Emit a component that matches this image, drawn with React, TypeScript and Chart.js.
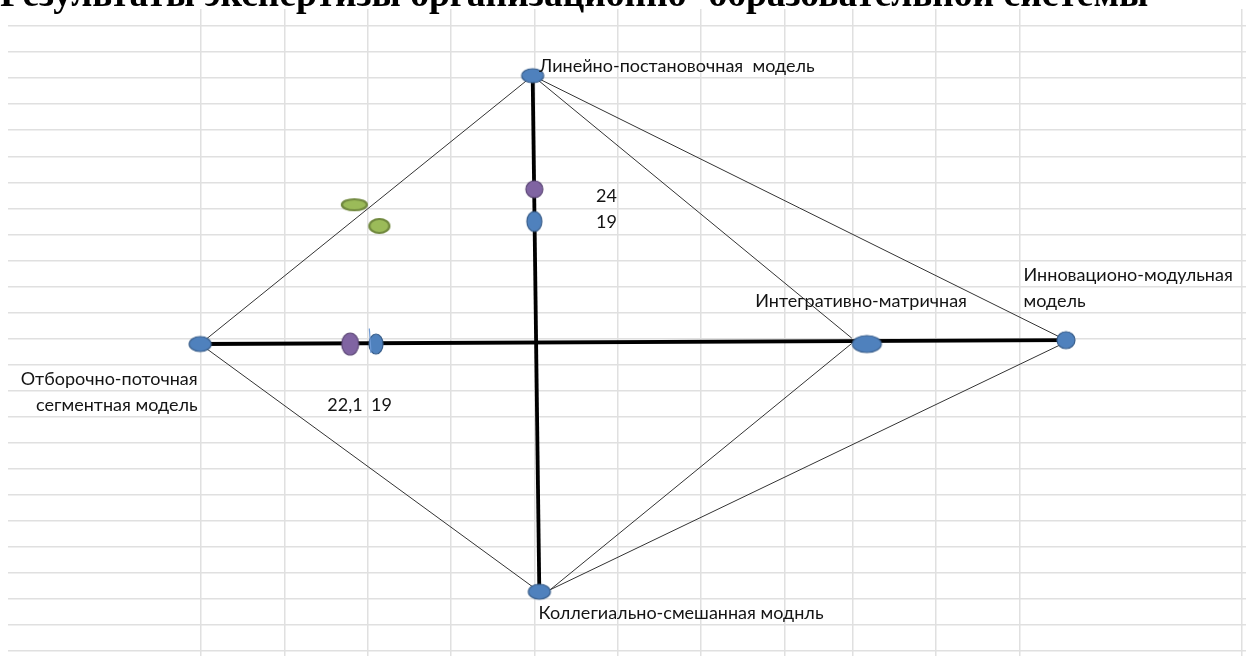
import React, { useEffect, useRef } from "react";
import { Chart, registerables } from "chart.js";

Chart.register(...registerables);

// ---------------- Data ----------------
const titleText = "Результаты экспертизы организационно- образовательной системы";

// models (nodes of the diagram)
const modelLabels: string[][] = [
  ["Линейно-постановочная  модель"],
  ["Отборочно-поточная", "сегментная модель"],
  ["Интегративно-матричная"],
  ["Инновационо-модульная", "модель"],
  ["Коллегиально-смешанная моднль"],
];
const modelX = [-0.2, -40.1, 39.9, 63.8, 0.6];
const modelY = [41.6, 0, 0, 0.6, -38.4];

// expert scores placed on the axes
const verticalScores = [24, 19]; // purple, blue on the vertical axis
const horizontalScores = [22.1, 19]; // purple, blue on the horizontal axis (left side)
const greenX = [-21.6, -18.6];
const greenY = [21.6, 18.3];

// thin connecting lines
const thinFromX = [-0.2, -40.1, -0.2, -0.2, 1.9, 1.9];
const thinFromY = [41.6, 0, 41.6, 41.6, -38.1, -38.1];
const thinToX = [-40.1, 0.6, 38.1, 63.8, 38.1, 63.8];
const thinToY = [0, -38.4, 0.9, 0.6, 0.1, 0.3];

// thick axes
const axisFromX = [-0.2, -40.1];
const axisFromY = [41.6, 0];
const axisToX = [0.6, 63.8];
const axisToY = [-38.4, 0.6];

// small blue stroke near the horizontal blue marker
const strokeX = [-19.8, -19.6];
const strokeY = [2.4, -1.4];

// spreadsheet grid (column boundaries in x units, row boundaries as row numbers)
const sheetColumns = [-40, -30, -20, -10, 0, 10, 20, 30, 38.2, 48.2, 58.2, 84.9];
const sheetRows = [1, 2, 3, 4, 5, 6, 7, 8, 9, 10, 11, 12, 13, 14, 15, 16, 17, 18, 19, 20, 21, 22, 23, 24, 25];

// ---------------- Layout / style ----------------
const modelLabelPlacement = [
  { x: 0.6, rows: [3], align: "left" },
  { x: -40.4, rows: [15, 16], align: "right" },
  { x: 26.5, rows: [12], align: "left" },
  { x: 58.7, rows: [11, 12], align: "left" },
  { x: 0.5, rows: [24], align: "left" },
];
const verticalScorePlacement = [
  { x: 7.4, row: 8, align: "left" },
  { x: 7.4, row: 9, align: "left" },
];
const horizontalScorePlacement = [
  { x: -20.6, row: 16, align: "right" },
  { x: -19.6, row: 16, align: "left" },
];

const LABEL_FONT = '18px Lato, Roboto, "Noto Sans", sans-serif';
const TITLE_FONT = 'bold 37.5px "Liberation Serif", "Times New Roman", serif';
const TEXT_COLOR = "#141414";
const GRID_COLOR = "#e0e0e0";

const BLUE = { fill: "#4f81bd", stroke: "#385d8a" };
const PURPLE = { fill: "#8064a2", stroke: "#5c4776" };
const GREEN = { fill: "#9bbb59", stroke: "#71893f" };

const nodeSizes = [
  [22, 14],
  [22, 15],
  [29, 17],
  [18, 17],
  [22, 15],
];
const purpleSizes = [
  [17, 17],
  [17, 22],
];
const blueSizes = [
  [15, 20],
  [14, 20],
];
const greenSizes = [
  [25, 11],
  [20, 14],
];

function ellipseSprite(w: number, h: number, fill: string, stroke: string, lw: number) {
  const c = document.createElement("canvas");
  const pad = Math.ceil(lw) + 1;
  c.width = Math.ceil(w + pad * 2);
  c.height = Math.ceil(h + pad * 2);
  const g = c.getContext("2d")!;
  g.beginPath();
  g.ellipse(c.width / 2, c.height / 2, w / 2, h / 2, 0, 0, Math.PI * 2);
  g.fillStyle = fill;
  g.fill();
  g.lineWidth = lw;
  g.strokeStyle = stroke;
  g.stroke();
  return c;
}

const fmt = (v: number) => String(v).replace(".", ",");

const textPlugin = {
  id: "diagramText",
  afterDraw(chart: any) {
    const ctx: CanvasRenderingContext2D = chart.ctx;
    const xs = chart.scales.x;
    const gy = chart.scales.gy;
    const baseline = (row: number) => gy.getPixelForValue(row) - 6;
    ctx.save();
    // title (cut off at the top of the picture)
    ctx.font = TITLE_FONT;
    ctx.fillStyle = "#000";
    ctx.textAlign = "left";
    ctx.textBaseline = "alphabetic";
    ctx.fillText(titleText, 0, 6);

    ctx.font = LABEL_FONT;
    ctx.fillStyle = TEXT_COLOR;
    modelLabels.forEach((lines, i) => {
      const p = modelLabelPlacement[i];
      ctx.textAlign = p.align as CanvasTextAlign;
      lines.forEach((line, j) => {
        ctx.fillText(line, xs.getPixelForValue(p.x), baseline(p.rows[j]));
      });
    });
    verticalScores.forEach((v, i) => {
      const p = verticalScorePlacement[i];
      ctx.textAlign = p.align as CanvasTextAlign;
      ctx.fillText(fmt(v), xs.getPixelForValue(p.x), baseline(p.row));
    });
    horizontalScores.forEach((v, i) => {
      const p = horizontalScorePlacement[i];
      ctx.textAlign = p.align as CanvasTextAlign;
      ctx.fillText(fmt(v), xs.getPixelForValue(p.x), baseline(p.row));
    });
    ctx.restore();
  },
};

export default function App() {
  const ref = useRef<HTMLCanvasElement | null>(null);

  useEffect(() => {
    if (!ref.current) return;

    const nodeSprites = nodeSizes.map(([w, h]) => ellipseSprite(w, h, BLUE.fill, BLUE.stroke, 1.2));
    const purpleSprites = purpleSizes.map(([w, h]) => ellipseSprite(w, h, PURPLE.fill, PURPLE.stroke, 1.2));
    const blueSprites = blueSizes.map(([w, h]) => ellipseSprite(w, h, BLUE.fill, BLUE.stroke, 1.2));
    const greenSprites = greenSizes.map(([w, h]) => ellipseSprite(w, h, GREEN.fill, GREEN.stroke, 2.2));

    const markerBase = { showLine: false, pointRadius: 5, pointHoverRadius: 5 };

    const thinLines = thinFromX.map((_, i) => ({
      label: "thin" + i,
      data: [
        { x: thinFromX[i], y: thinFromY[i] },
        { x: thinToX[i], y: thinToY[i] },
      ],
      showLine: true,
      pointRadius: 0,
      borderColor: "#333333",
      borderWidth: 1,
      order: 10,
    }));
    const axisLines = axisFromX.map((_, i) => ({
      label: "axis" + i,
      data: [
        { x: axisFromX[i], y: axisFromY[i] },
        { x: axisToX[i], y: axisToY[i] },
      ],
      showLine: true,
      pointRadius: 0,
      borderColor: "#000000",
      borderWidth: 3.8,
      order: 9,
    }));

    const datasets: any[] = [
      {
        label: "purple",
        data: [
          { x: 0, y: verticalScores[0] },
          { x: -horizontalScores[0], y: 0 },
        ],
        pointStyle: purpleSprites,
        ...markerBase,
        order: 1,
      },
      {
        label: "blue",
        data: [
          { x: 0, y: verticalScores[1] },
          { x: -horizontalScores[1], y: 0 },
        ],
        pointStyle: blueSprites,
        ...markerBase,
        order: 1,
      },
      {
        label: "green",
        data: greenX.map((x, i) => ({ x, y: greenY[i] })),
        pointStyle: greenSprites,
        ...markerBase,
        order: 1,
      },
      {
        label: "models",
        data: modelX.map((x, i) => ({ x, y: modelY[i] })),
        pointStyle: nodeSprites,
        ...markerBase,
        order: 2,
      },
      {
        label: "stroke",
        data: strokeX.map((x, i) => ({ x, y: strokeY[i] })),
        showLine: true,
        pointRadius: 0,
        borderColor: "#6f9bd6",
        borderWidth: 1.2,
        order: 0,
      },
      ...axisLines,
      ...thinLines,
    ];

    const gridOpts = { color: GRID_COLOR, lineWidth: 1.5, drawTicks: false };

    const chart = new Chart(ref.current, {
      type: "scatter",
      data: { datasets },
      plugins: [textPlugin],
      options: {
        animation: false,
        responsive: true,
        maintainAspectRatio: false,
        events: [],
        layout: { autoPadding: false, padding: { left: 8, top: 9, right: 0, bottom: 0 } },
        plugins: {
          legend: { display: false },
          tooltip: { enabled: false },
          title: { display: false },
        },
        scales: {
          x: {
            type: "linear",
            min: -63.16,
            max: 85.4,
            display: true,
            grid: gridOpts,
            border: { display: false },
            ticks: { display: false },
            afterBuildTicks: (s: any) => {
              s.ticks = sheetColumns.map((v) => ({ value: v }));
            },
          },
          y: {
            type: "linear",
            min: -48.37,
            max: 51.94,
            display: false,
          },
          gy: {
            type: "linear",
            position: "left",
            reverse: true,
            min: 0.3474,
            max: 25.184,
            display: true,
            grid: gridOpts,
            border: { display: false },
            ticks: { display: false },
            afterBuildTicks: (s: any) => {
              s.ticks = sheetRows.map((v) => ({ value: v }));
            },
          },
        },
      } as any,
    });

    return () => chart.destroy();
  }, []);

  return (
    <div style={{ position: "fixed", left: 0, top: 0, width: 1246, height: 656, background: "#ffffff" }}>
      <canvas ref={ref} />
    </div>
  );
}
